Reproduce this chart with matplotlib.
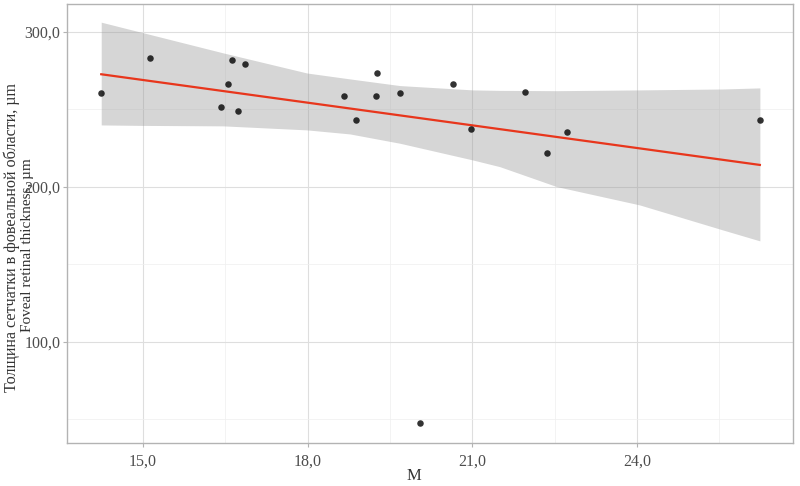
import numpy as np
import matplotlib
matplotlib.use("Agg")
from matplotlib import pyplot as plt
from matplotlib.ticker import MultipleLocator, FuncFormatter

# axial length (M) vs foveal retinal thickness
m = [14.24, 15.13, 16.42, 16.55, 16.62, 16.73, 16.86, 18.66, 18.88, 19.24,
     19.26, 19.68, 20.05, 20.65, 20.97, 21.96, 22.36, 22.72, 26.24]
thickness = [260.6, 283.2, 251.6, 266.5, 281.9, 249.0, 279.4, 258.7, 243.2, 258.7,
             273.5, 260.6, 47.7, 266.5, 237.4, 261.3, 221.9, 235.5, 243.2]

# regression line ends and its confidence band, as drawn in the original
fit_x = [14.24, 26.24]
fit_y = [272.7, 214.2]
band_x = [14.24, 14.98, 16.46, 17.99, 18.77, 19.68, 21.01, 21.50, 22.54, 24.05, 25.56, 26.24]
band_hi = [306.3, 299.7, 286.5, 273.5, 269.7, 265.4, 262.6, 262.3, 262.1, 262.6, 263.2, 263.9]
band_lo = [240.0, 239.7, 239.4, 236.8, 234.2, 228.2, 217.4, 213.1, 200.2, 188.4, 172.3, 165.2]

plt.rcParams['font.family'] = ['Liberation Serif', 'DejaVu Serif']
fig = plt.figure(figsize=(8, 4.86), dpi=100)
ax = fig.add_axes([0.084, 0.0885, 0.907, 0.9035])

ax.fill_between(band_x, band_lo, band_hi, color='#999999', alpha=0.4, linewidth=0, zorder=2)
ax.plot(fit_x, fit_y, color='#e8361c', linewidth=1.6, zorder=3)
ax.scatter(m, thickness, s=22, color='black', alpha=0.8, linewidths=0, zorder=4)

ax.set_xlim(13.62, 26.84)
ax.set_ylim(34.8, 318.1)
ax.xaxis.set_major_locator(MultipleLocator(3))
ax.xaxis.set_minor_locator(MultipleLocator(1.5))
ax.yaxis.set_major_locator(MultipleLocator(100))
ax.yaxis.set_minor_locator(MultipleLocator(50))
fmt = FuncFormatter(lambda v, p: ('%.1f' % v).replace('.', ','))
ax.xaxis.set_major_formatter(fmt)
ax.yaxis.set_major_formatter(fmt)

ax.grid(which='major', color='#dedede', linewidth=0.8, zorder=0)
ax.grid(which='minor', color='#efefef', linewidth=0.5, zorder=0)
ax.set_axisbelow(True)
for sp in ax.spines.values():
    sp.set_color('#b3b3b3')
    sp.set_linewidth(1.0)
ax.tick_params(which='major', length=3, color='#b3b3b3', labelsize=11.5,
               labelcolor='#4d4d4d', pad=2)
ax.tick_params(axis='x', pad=5)
ax.tick_params(which='minor', length=0)

fig.text(414/800, 1 - 476/486, 'M', fontsize=12, color='#333333',
         ha='center', va='center')
fig.text(12/800, 1 - 237/486, 'Толщина сетчатки в фовеальной области, µm',
         fontsize=11.6, color='#333333', rotation=90, ha='center', va='center')
fig.text(28/800, 1 - 245/486, 'Foveal retinal thickness, µm',
         fontsize=11, color='#333333', rotation=90, ha='center', va='center')

fig.savefig('out.png', dpi=100)
